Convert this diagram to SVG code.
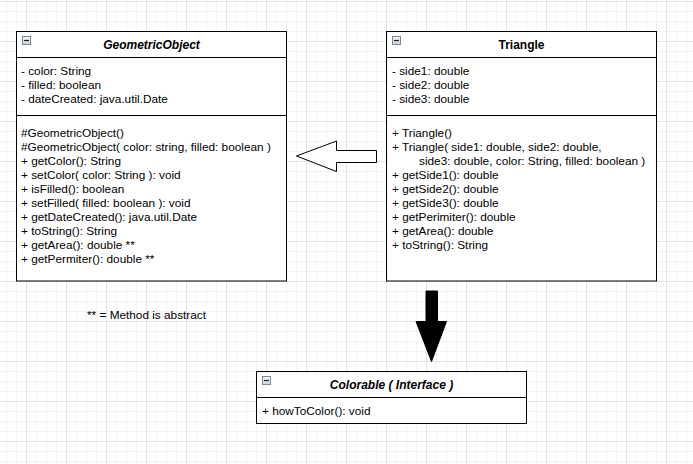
<svg xmlns="http://www.w3.org/2000/svg" width="693" height="464" viewBox="0 0 693 464">
<style>
.box{fill:#fff;stroke:#000;stroke-width:1}
.sep{stroke:#000;stroke-width:1}
.t{font-family:"Liberation Sans",Arial,Helvetica,sans-serif;font-size:11.8px;fill:#000}
.h{font-size:12px;font-weight:bold;text-anchor:middle}
.i{font-style:italic}
.ico{fill:url(#icoGrad);stroke:#7a8a99;stroke-width:1}
.icodash{stroke:#222;stroke-width:1.2}
</style>
<defs>
<linearGradient id="icoGrad" x1="0" y1="0" x2="0" y2="1">
<stop offset="0" stop-color="#f4f6f8"/>
<stop offset="1" stop-color="#c9d1d9"/>
</linearGradient>
<pattern id="grid" x="26" y="1" width="40" height="40" patternUnits="userSpaceOnUse">
<rect width="40" height="40" fill="#fff"/>
<rect x="10" y="0" width="1" height="40" fill="#f3f3f3"/>
<rect x="20" y="0" width="1" height="40" fill="#f3f3f3"/>
<rect x="30" y="0" width="1" height="40" fill="#f3f3f3"/>
<rect x="0" y="10" width="40" height="1" fill="#f3f3f3"/>
<rect x="0" y="20" width="40" height="1" fill="#f3f3f3"/>
<rect x="0" y="30" width="40" height="1" fill="#f3f3f3"/>
<rect x="0" y="0" width="1" height="40" fill="#e2e2e2"/>
<rect x="0" y="0" width="40" height="1" fill="#e2e2e2"/>
</pattern>
</defs>
<rect width="693" height="464" fill="url(#grid)"/>

<g id="GeometricObject">
<rect class="box" x="16.5" y="31.5" width="270" height="249.5"/>
<line class="sep" x1="16.5" y1="57.5" x2="286.5" y2="57.5"/>
<line class="sep" x1="16.5" y1="115.5" x2="286.5" y2="115.5"/>
<rect class="ico" x="22.5" y="36.5" width="8" height="8"/>
<line class="icodash" x1="24" y1="40.5" x2="29" y2="40.5"/>
<text class="t h i" x="151.5" y="48.5">GeometricObject</text>
<text class="t" x="21" y="75">- color: String</text>
<text class="t" x="21" y="89">- filled: boolean</text>
<text class="t" x="21" y="103">- dateCreated: java.util.Date</text>
<text class="t" x="21" y="137">#GeometricObject()</text>
<text class="t" x="21" y="151">#GeometricObject( color: string, filled: boolean )</text>
<text class="t" x="21" y="165">+ getColor(): String</text>
<text class="t" x="21" y="179">+ setColor( color: String ): void</text>
<text class="t" x="21" y="193">+ isFilled(): boolean</text>
<text class="t" x="21" y="207">+ setFilled( filled: boolean ): void</text>
<text class="t" x="21" y="221">+ getDateCreated(): java.util.Date</text>
<text class="t" x="21" y="235">+ toString(): String</text>
<text class="t" x="21" y="249">+ getArea(): double **</text>
<text class="t" x="21" y="263">+ getPermiter(): double **</text>
</g>

<g id="Triangle">
<rect class="box" x="386.5" y="31.5" width="270" height="249.5"/>
<line class="sep" x1="386.5" y1="57.5" x2="656.5" y2="57.5"/>
<line class="sep" x1="386.5" y1="115.5" x2="656.5" y2="115.5"/>
<rect class="ico" x="392.5" y="36.5" width="8" height="8"/>
<line class="icodash" x1="394" y1="40.5" x2="399" y2="40.5"/>
<text class="t h" x="521.5" y="48.5">Triangle</text>
<text class="t" x="392" y="75">- side1: double</text>
<text class="t" x="392" y="89">- side2: double</text>
<text class="t" x="392" y="103">- side3: double</text>
<text class="t" x="392" y="137">+ Triangle()</text>
<text class="t" x="392" y="151">+ Triangle( side1: double, side2: double,</text>
<text class="t" x="419" y="165">side3: double, color: String, filled: boolean )</text>
<text class="t" x="392" y="179">+ getSide1(): double</text>
<text class="t" x="392" y="193">+ getSide2(): double</text>
<text class="t" x="392" y="207">+ getSide3(): double</text>
<text class="t" x="392" y="221">+ getPerimiter(): double</text>
<text class="t" x="392" y="235">+ getArea(): double</text>
<text class="t" x="392" y="249">+ toString(): String</text>
</g>

<g id="Colorable">
<rect class="box" x="256.5" y="371.5" width="270" height="52"/>
<line class="sep" x1="256.5" y1="397.5" x2="526.5" y2="397.5"/>
<rect class="ico" x="262.5" y="376.5" width="8" height="8"/>
<line class="icodash" x1="264" y1="380.5" x2="269" y2="380.5"/>
<text class="t h i" x="391.5" y="389">Colorable ( Interface )</text>
<text class="t" x="262" y="415">+ howToColor(): void</text>
</g>

<g id="note">
<text class="t" x="87" y="318.5">** = Method is abstract</text>
</g>

<g id="connectors">
<polygon points="376.5,150.5 336.5,150.5 336.5,141 296.5,156 336.5,171.5 336.5,162.5 376.5,162.5" fill="#fff" stroke="#000" stroke-width="1"/>
<polygon points="426,291 437.5,291 437.5,321.5 446.5,321.5 431.5,361.5 416,321.5 426,321.5" fill="#000" stroke="#000" stroke-width="1"/>
</g>
</svg>
